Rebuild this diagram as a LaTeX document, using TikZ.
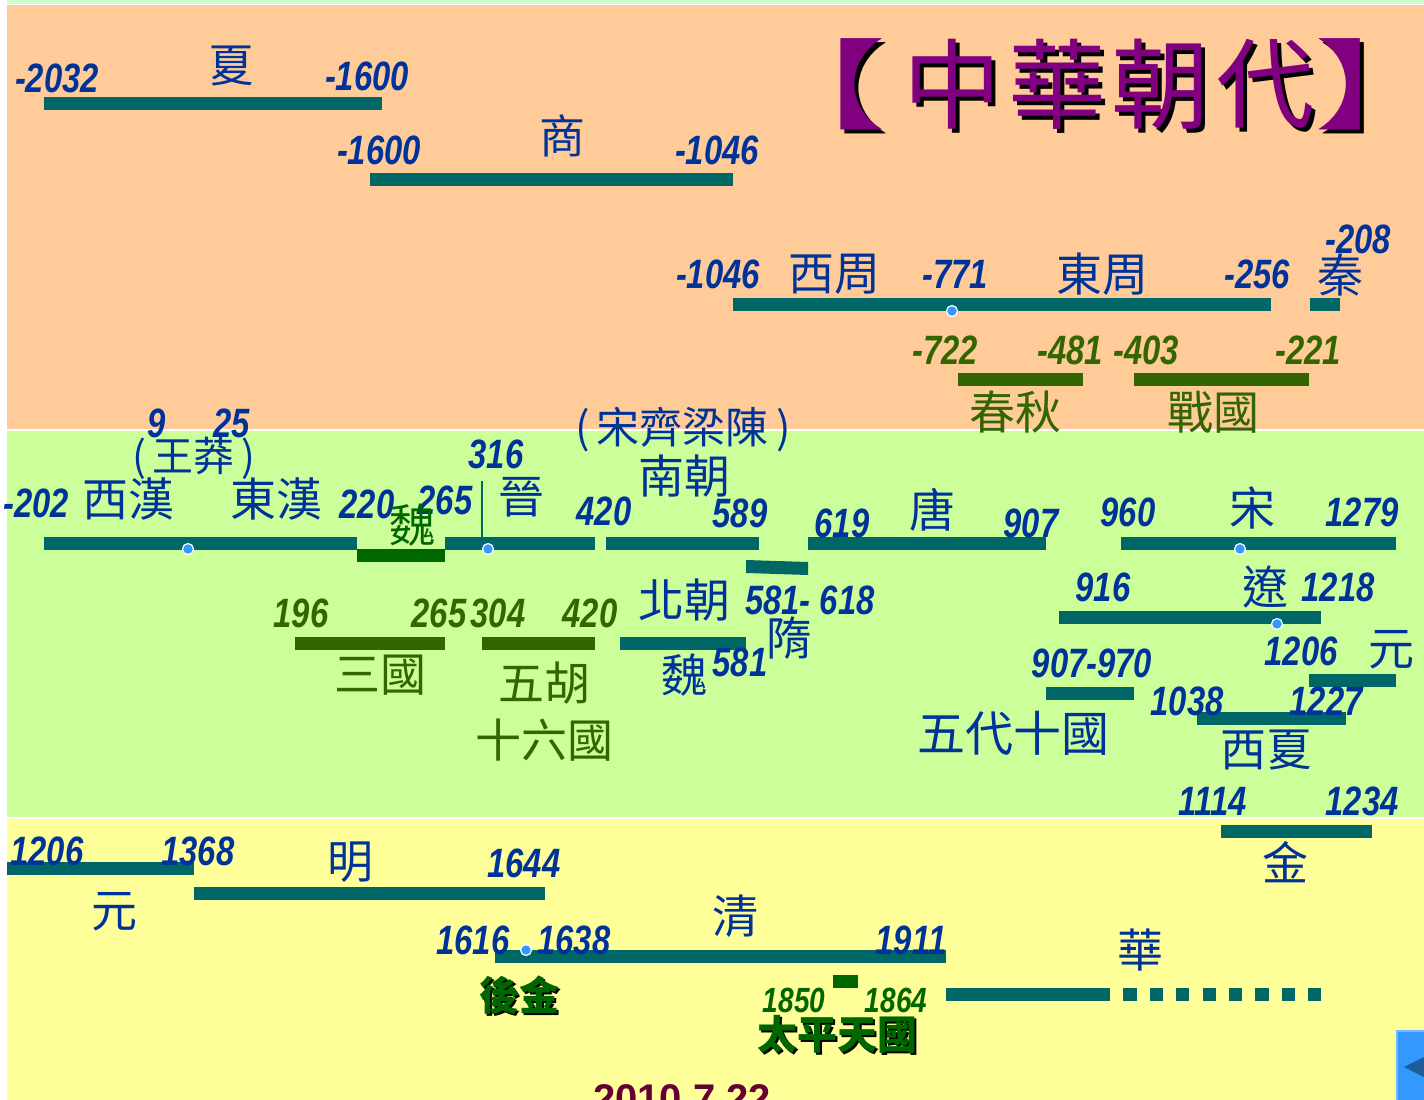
\documentclass[tikz,border=0pt]{standalone}
\usepackage{fontspec}
\setmainfont{Liberation Sans}
\newfontfamily\numfont[FakeStretch=0.8]{Liberation Sans}
\newfontfamily\cjk{Noto Sans CJK TC}
\definecolor{peach}{HTML}{FFCC99}
\definecolor{lgreen}{HTML}{CCFF99}
\definecolor{lyellow}{HTML}{FFFF99}
\definecolor{topstrip}{HTML}{CCFFCC}
\definecolor{lblue}{HTML}{003399}
\definecolor{olive}{HTML}{336600}
\definecolor{dgreen}{HTML}{006600}
\definecolor{barteal}{HTML}{006666}
\definecolor{dotblue}{HTML}{3399FF}
\definecolor{ttlpurple}{HTML}{800080}
\definecolor{maroon}{HTML}{660033}
\definecolor{btnblue}{HTML}{3399FF}
\definecolor{btndark}{HTML}{1F5C99}
\tikzset{
  num/.style={inner sep=0pt, text=lblue, font=\numfont\bfseries\itshape\fontsize{41}{41}\selectfont},
  onum/.style={num, text=olive},
  snum/.style={inner sep=0pt, text=dgreen, font=\numfont\bfseries\itshape\fontsize{35}{35}\selectfont},
  cj/.style={inner sep=0pt, text=lblue, font=\cjk\fontsize{46}{46}\selectfont},
  ocj/.style={cj, text=olive},
  scj/.style={inner sep=0pt, text=lblue, font=\cjk\fontsize{41}{41}\selectfont},
  bcj/.style={inner sep=0pt, font=\cjk\bfseries\fontsize{40}{40}\selectfont},
  ttl/.style={inner sep=0pt, font=\cjk\fontsize{98}{98}\selectfont},
  bar/.style={fill=barteal},
  obar/.style={fill=olive},
  gbar/.style={fill=dgreen},
  dot/.style={circle, fill=dotblue, draw=white, line width=1.2pt, minimum size=11pt, inner sep=0pt},
}
\begin{document}
\begin{tikzpicture}[x=1pt,y=-1pt]
\useasboundingbox (0,0) rectangle (1424,1100);
\clip (0,0) rectangle (1424,1100);
% backgrounds
\fill[white] (0,0) rectangle (1424,1100);
\fill[topstrip] (7,0) rectangle (1424,4);
\fill[peach] (7,5) rectangle (1424,429);
\fill[lgreen] (7,431) rectangle (1424,817);
\fill[lyellow] (7,819) rectangle (1424,1100);

% title, with a black shadow
\foreach \ch/\cx [count=\i] in {{\scalebox{1.4}[1]{【}}/818,中/952,華/1057,朝/1160,代/1265,{\scalebox{1.4}[1]{】}}/1383}{
  \node[ttl, text=black] (tsh\i) at (\cx+4,88) {\ch};
  \node[ttl, text=ttlpurple] (tt\i) at (\cx,84) {\ch};
}

% ---------- ancient (peach) ----------
\fill[bar] (44,97) rectangle (382,110);
\node[num] (xia1) at (57,78) {-2032};
\node[cj] (xia) at (231,66) {夏};
\node[num] (xia2) at (367,76) {-1600};

\fill[bar] (370,173) rectangle (733,186);
\node[num] (shang1) at (379,150) {-1600};
\node[cj] (shang) at (562,136) {商};
\node[num] (shang2) at (717,150) {-1046};

\fill[bar] (733,298) rectangle (1271,311);
\fill[bar] (1310,298) rectangle (1340,311);
\node[dot] (dzhou) at (952,311) {};
\node[num] (zhou1) at (718,274) {-1046};
\node[cj] (xizhou) at (834,274) {西周};
\node[num] (zhou2) at (955,274) {-771};
\node[cj] (dongzhou) at (1102,274) {東周};
\node[num] (zhou3) at (1257,274) {-256};
\node[num] (qin1) at (1358,239) {-208};
\node[cj] (qin) at (1340,275) {秦};

\fill[obar] (958,373) rectangle (1083,386);
\fill[obar] (1134,373) rectangle (1309,386);
\node[onum] (cq1) at (945,350) {-722};
\node[onum] (cq2) at (1070,350) {-481};
\node[onum] (zg1) at (1146,350) {-403};
\node[onum] (zg2) at (1308,350) {-221};
\node[ocj] (chunqiu) at (1015,412) {春秋};
\node[ocj] (zhanguo) at (1213,412) {戰國};

% ---------- middle (green) ----------
\fill[bar] (44,537) rectangle (357,550);
\fill[gbar] (357,549) rectangle (445,562);
\fill[bar] (445,537) rectangle (595,550);
\fill[bar] (606,537) rectangle (759,550);
\fill[bar] (746,560) -- (808,562) -- (808,575) -- (746,573) -- cycle;
\fill[bar] (808,537) rectangle (1046,550);
\fill[bar] (1121,537) rectangle (1396,550);
\coordinate (jtop) at (482,481);
\coordinate (jbot) at (482,540);
\draw[barteal, line width=1.5pt] (jtop) -- (jbot);
\node[dot] (dhan) at (188,549) {};
\node[dot] (djin) at (488,549) {};
\node[dot] (dsong) at (1240,549) {};

\node[num] (wm1) at (157,423) {9};
\node[num] (wm2) at (232,423) {25};
\node[scj] (wangmang) at (194,458) {(\,王莽\,)};
\node[scj, font=\cjk\fontsize{43}{43}\selectfont] (sqlc) at (683,430) {(\,宋齊梁陳\,)};
\node[num] (han1) at (36,503) {-202};
\node[cj] (xihan) at (128,499) {西漢};
\node[cj] (donghan) at (276,499) {東漢};
\node[num] (han2) at (367,504) {220};
\node[num] (wei2) at (445,500) {265};
\node[cj, text=dgreen] (wei) at (412,525) {魏};
\node[num] (jin1) at (496,454) {316};
\node[cj] (jin) at (521,497) {晉};
\node[cj] (nanchao) at (684,476) {南朝};
\node[num] (nc1) at (604,511) {420};
\node[num] (nc2) at (740,513) {589};
\node[num] (tang1) at (842,523) {619};
\node[cj] (tang) at (932,510) {唐};
\node[num] (tang2) at (1031,523) {907};
\node[num] (song1) at (1128,512) {960};
\node[cj] (song) at (1252,508) {宋};
\node[num] (song2) at (1362,512) {1279};

\fill[bar] (1059,611) rectangle (1321,624);
\node[dot] (dliao) at (1277,624) {};
\node[num] (liao1) at (1103,587) {916};
\node[cj] (liao) at (1265,587) {遼};
\node[num] (liao2) at (1338,587) {1218};

\fill[obar] (295,637) rectangle (445,650);
\fill[obar] (482,637) rectangle (595,650);
\fill[bar] (620,637) rectangle (746,650);
\node[onum] (sg1) at (301,613) {196};
\node[onum] (sg2) at (439,613) {265};
\node[onum] (wh1) at (498,613) {304};
\node[onum] (wh2) at (590,613) {420};
\node[cj] (beichao) at (684,600) {北朝};
\node[num] (sui1) at (810,600) {581- 618};
\node[cj] (sui) at (789,638) {隋};
\node[ocj] (sanguo) at (380,675) {三國};
\node[ocj] (wuhu) at (544,683) {五胡};
\node[ocj] (sllg) at (544,740) {十六國};
\node[cj] (beiwei) at (684,675) {魏};
\node[num] (bw2) at (740,662) {581};

\fill[bar] (1046,687) rectangle (1134,700);
\fill[bar] (1309,674) rectangle (1396,687);
\fill[bar] (1197,712) rectangle (1346,725);
\node[num] (wd1) at (1092,663) {907-970};
\node[cj, font=\cjk\fontsize{48}{48}\selectfont] (wudai) at (1013,733) {五代十國};
\node[num] (yuan1) at (1301,651) {1206};
\node[cj] (yuan) at (1391,650) {元};
\node[num] (xx1) at (1187,701) {1038};
\node[num] (xx2) at (1326,701) {1227};
\node[cj] (xixia) at (1266,750) {西夏};
\node[num] (jn1) at (1213,801) {1114};
\node[num] (jn2) at (1362,801) {1234};

% ---------- late (yellow) ----------
\fill[bar] (1221,825) rectangle (1372,838);
\node[cj] (jinchao) at (1285,862) {金};

\fill[bar] (7,862) rectangle (194,875);
\fill[bar] (194,887) rectangle (545,900);
\node[num] (y1) at (47,851) {1206};
\node[num] (y2) at (198,851) {1368};
\node[cj] (yuan2) at (114,912) {元};
\node[cj] (ming) at (350,862) {明};
\node[num] (ming2) at (524,863) {1644};

\fill[bar] (495,950) rectangle (946,963);
\node[dot] (dqing) at (526,950) {};
\node[num] (q1) at (473,940) {1616};
\node[num] (q2) at (574,940) {1638};
\node[cj] (qing) at (735,916) {清};
\node[num] (q3) at (911,940) {1911};
\node[bcj, text=black] (hjsh) at (521,997) {後金};
\node[bcj, text=dgreen] (houjin) at (519,995) {後金};

\fill[gbar] (833,975) rectangle (858,988);
\node[snum] (tp1) at (794,1000) {1850};
\node[snum] (tp2) at (896,1000) {1864};
\node[bcj, text=black] (tpsh) at (839,1036) {太平天國};
\node[bcj, text=dgreen] (taiping) at (837,1034) {太平天國};

\fill[bar] (946,988) rectangle (1097,1001);
\coordinate (hs) at (1097,994.5);
\coordinate (he) at (1322,994.5);
\draw[barteal, line width=13pt, dash pattern=on 13.2pt off 13.2pt] (hs) -- (he);
\node[cj] (hua) at (1140,950) {華};

\node[inner sep=0pt, text=maroon, font=\bfseries\fontsize{40}{40}\selectfont, anchor=north] (date) at (682,1084) {2010.7.22};

% button
\fill[btnblue!70!white] (1396,1030) rectangle (1424,1100);
\fill[btnblue] (1398,1032) rectangle (1424,1100);
\fill[btndark] (1404,1067) -- (1424,1057) -- (1424,1077) -- cycle;
\end{tikzpicture}
\end{document}
